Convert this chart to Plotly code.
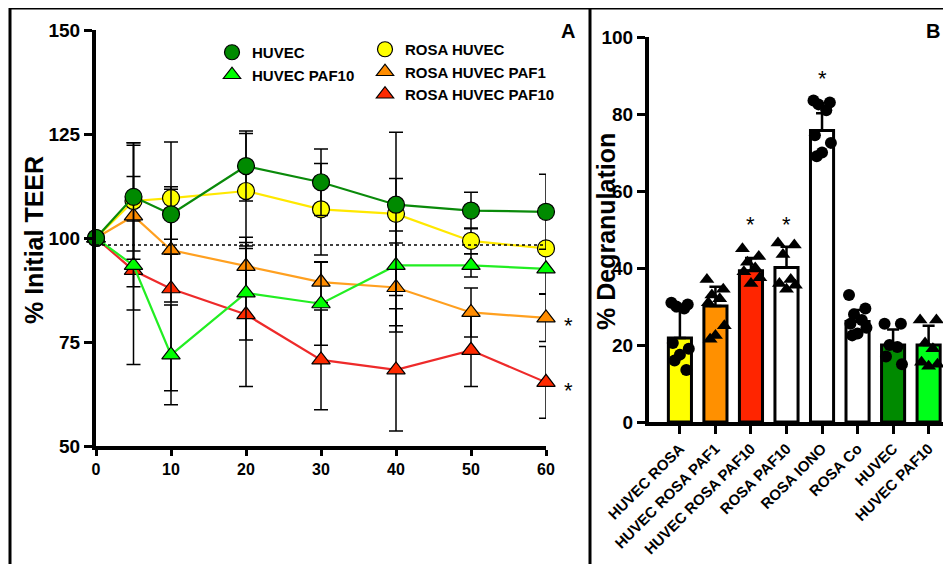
import plotly.graph_objects as go

# ---------------- Panel A data ----------------
time_min = [0, 5, 10, 20, 30, 40, 50, 60]
huvec = [100, 109.9, 105.7, 117.3, 113.4, 108.0, 106.6, 106.3]
huvec_sd = [0, 13.0, 6.0, 8.4, 8.0, 6.3, 4.4, 9.0]
rosa_huvec = [100, 108.9, 109.6, 111.3, 106.9, 105.8, 99.3, 97.5]
rosa_huvec_sd = [0, 14.0, 13.5, 13.8, 11.0, 19.6, 3.1, 1.2]
rosa_paf1 = [100, 105.3, 97.1, 93.2, 89.4, 88.1, 82.1, 80.8]
rosa_paf1_sd = [0, 17.0, 12.5, 7.0, 4.9, 10.7, 5.9, 5.7]
rosa_paf10 = [100, 92.2, 87.8, 81.6, 70.7, 68.3, 73.0, 65.3]
rosa_paf10_sd = [0, 22.6, 24.5, 17.3, 12.0, 14.7, 8.7, 8.6]
huvec_paf10 = [100, 93.4, 71.9, 86.8, 84.2, 93.4, 93.4, 92.6]
huvec_paf10_sd = [0, 10.7, 12.0, 11.3, 10.0, 14.5, 2.8, 6.0]
baseline = 98.3
time_ticks = [0, 10, 20, 30, 40, 50, 60]
teer_ticks = [50, 75, 100, 125, 150]

# ---------------- Panel B data ----------------
categories = ["HUVEC ROSA", "HUVEC ROSA PAF1", "HUVEC ROSA PAF10", "ROSA PAF10",
              "ROSA IONO", "ROSA Co", "HUVEC", "HUVEC PAF10"]
degran_mean = [21.8, 30.1, 39.3, 40.1, 75.7, 26.1, 20.0, 20.0]
degran_err = [7.0, 5.0, 3.3, 5.4, 4.5, 3.0, 4.0, 5.0]
degran_points = [
    [31, 30.5, 30, 29.5, 20.5, 19, 17.5, 16, 13.5],
    [37, 34.5, 33, 32, 31, 25, 22.5, 21.5],
    [45, 43, 41.5, 40, 39, 37.5, 36],
    [46.5, 46, 43.5, 37, 36, 35.5, 34.5],
    [83.5, 83, 82.5, 81, 74.5, 72.5, 70, 69],
    [33, 29.5, 28, 26.5, 25.5, 24.5, 23, 22.5],
    [25.5, 25.5, 20, 19.5, 17, 15],
    [26.5, 26.5, 20.5, 19, 15.5, 15, 14.5],
]
degran_ticks = [0, 20, 40, 60, 80, 100]
bar_colors = ["#FFFF00", "#FF9000", "#FF2500", "#FFFFFF", "#FFFFFF", "#FFFFFF", "#008A00", "#00FF1A"]
point_symbols = ["circle", "triangle-up", "triangle-up", "triangle-up",
                 "circle", "circle", "circle", "triangle-up"]
star_cats = ["HUVEC ROSA PAF10", "ROSA PAF10", "ROSA IONO"]
star_vals = [51.3, 51.3, 89.3]

# page body has an 8px margin, so the figure is 8px smaller and coordinates shifted
OFF = 8
W, H = 951 - OFF, 564 - OFF
FONT = "Liberation Sans, Arial, sans-serif"


def px_x(p):
    return (p - OFF) / W


def px_y(p):
    return 1 - (p - OFF) / H


fig = go.Figure()

# ---- Panel A traces ----
series = [
    ("ROSA HUVEC PAF10", rosa_paf10, rosa_paf10_sd, "#FF2A00", "#EE2A2A", "triangle-up", "legend2", 3),
    ("ROSA HUVEC PAF1", rosa_paf1, rosa_paf1_sd, "#FF8C00", "#FFA020", "triangle-up", "legend2", 2),
    ("HUVEC PAF10", huvec_paf10, huvec_paf10_sd, "#00FF00", "#22EE22", "triangle-up", "legend", 2),
    ("ROSA HUVEC", rosa_huvec, rosa_huvec_sd, "#FFFF00", "#FFE800", "circle", "legend2", 1),
    ("HUVEC", huvec, huvec_sd, "#008A00", "#0A8A0A", "circle", "legend", 1),
]
for name, ys, sd, mcol, lcol, sym, leg, rank in series:
    msize = 17 if sym == "circle" else 16
    fig.add_trace(go.Scatter(
        x=time_min, y=ys, name=name, mode="lines+markers", showlegend=False,
        line=dict(color=lcol, width=2.2),
        marker=dict(symbol=sym, size=msize, color=mcol, line=dict(color="black", width=1.2)),
        error_y=dict(type="data", array=sd, visible=True, color="black",
                     thickness=1.5, width=7),
        cliponaxis=False, xaxis="x", yaxis="y",
    ))
    # legend entry (marker only, like the reference key)
    fig.add_trace(go.Scatter(
        x=[None], y=[None], name=name, mode="markers",
        marker=dict(symbol=sym, size=15, color=mcol, line=dict(color="black", width=1.2)),
        xaxis="x", yaxis="y", legend=leg, legendrank=rank,
    ))

# ---- Panel B traces ----
xpos = list(range(len(categories)))
fig.add_trace(go.Bar(
    x=xpos, y=degran_mean, width=0.65, showlegend=False,
    marker=dict(color=bar_colors, line=dict(color="black", width=3)),
    error_y=dict(type="data", array=degran_err, arrayminus=[0] * len(categories),
                 symmetric=False, visible=True, color="black", thickness=2.5, width=6),
    xaxis="x2", yaxis="y2",
))
jit = [-0.24, 0.22, -0.1, 0.12, -0.2, 0.25, 0.0, -0.15, 0.18]
for i, pts in enumerate(degran_points):
    xs = [i + jit[k % len(jit)] for k in range(len(pts))]
    fig.add_trace(go.Scatter(
        x=xs, y=pts, mode="markers", showlegend=False,
        marker=dict(symbol=point_symbols[i], size=12 if point_symbols[i] == "circle" else 13,
                    color="black"),
        cliponaxis=False, xaxis="x2", yaxis="y2",
    ))

# ---- Layout ----
axis_common = dict(showline=True, linecolor="black", linewidth=4, ticks="outside",
                   ticklen=8, tickwidth=3, tickcolor="black", showgrid=False, zeroline=False,
                   automargin=False,
                   tickfont=dict(family=FONT, size=19, color="black", weight="bold"))

fig.update_layout(
    width=W, height=H, margin=dict(l=0, r=0, t=0, b=0, autoexpand=False),
    paper_bgcolor="white", plot_bgcolor="white",
    font=dict(family=FONT, color="black"),
    xaxis=dict(domain=[px_x(96), px_x(546)], range=[0, 60], tickvals=time_ticks,
               anchor="y", **{**axis_common, "ticklen": 6,
                              "tickfont": dict(family=FONT, size=16, color="black", weight="bold")}),
    yaxis=dict(domain=[px_y(446), px_y(30)], range=[50, 150], tickvals=teer_ticks,
               anchor="x", **axis_common),
    xaxis2=dict(domain=[px_x(649), 1.0], range=[-0.87, 7.63], tickvals=xpos, ticktext=categories,
                tickangle=-45, anchor="y2",
                **{**axis_common, "tickfont": dict(family=FONT, size=15, color="black", weight="bold")}),
    yaxis2=dict(domain=[px_y(422), px_y(37)], range=[0, 100], tickvals=degran_ticks,
                anchor="x2", **axis_common),
    legend=dict(x=px_x(212), y=px_y(36), xanchor="left", yanchor="top",
                bgcolor="rgba(0,0,0,0)", font=dict(family=FONT, size=15, weight="bold"),
                itemwidth=30, tracegroupgap=0),
    legend2=dict(x=px_x(365), y=px_y(33), xanchor="left", yanchor="top",
                 bgcolor="rgba(0,0,0,0)", font=dict(family=FONT, size=15, weight="bold"),
                 itemwidth=30, tracegroupgap=0),
    showlegend=True,
)

# axis titles
fig.add_annotation(text="% Initial TEER", xref="paper", yref="paper", x=px_x(34), y=px_y(240),
                   textangle=-90, showarrow=False, xanchor="center", yanchor="middle",
                   font=dict(family=FONT, size=25, weight="bold"))
fig.add_annotation(text="% Degranulation", xref="paper", yref="paper", x=px_x(606), y=px_y(232),
                   textangle=-90, showarrow=False, xanchor="center", yanchor="middle",
                   font=dict(family=FONT, size=25, weight="bold"))

# dotted baseline
fig.add_shape(type="line", xref="x", yref="y", x0=time_min[0], x1=time_min[-1],
              y0=baseline, y1=baseline, line=dict(color="black", width=1.5, dash="dot"))

# frame lines
frame = dict(color="black", width=3)
fig.add_shape(type="line", xref="paper", yref="paper", x0=px_x(10), x1=px_x(10), y0=0, y1=px_y(8), line=frame)
fig.add_shape(type="line", xref="paper", yref="paper", x0=px_x(10), x1=1, y0=px_y(8), y1=px_y(8), line=frame)
fig.add_shape(type="line", xref="paper", yref="paper", x0=px_x(590), x1=px_x(590), y0=0, y1=px_y(8), line=frame)

# panel letters
for letter, lx in [("A", 568), ("B", 933)]:
    fig.add_annotation(text=letter, xref="paper", yref="paper", x=px_x(lx), y=px_y(31),
                       xanchor="center", yanchor="middle", showarrow=False,
                       font=dict(family=FONT, size=20, weight="bold"))

# significance stars panel A
for yv in [rosa_paf1[-1], rosa_paf10[-1]]:
    fig.add_annotation(text="*", xref="paper", yref="y", x=px_x(568), y=yv, yshift=-8,
                       xanchor="center", yanchor="middle", showarrow=False,
                       font=dict(family=FONT, size=22))
# significance stars panel B
for c, v in zip(star_cats, star_vals):
    fig.add_annotation(text="*", xref="x2", yref="y2", x=categories.index(c), y=v,
                       xanchor="center", yanchor="middle", showarrow=False,
                       font=dict(family=FONT, size=22))

fig.write_html("out.html")
